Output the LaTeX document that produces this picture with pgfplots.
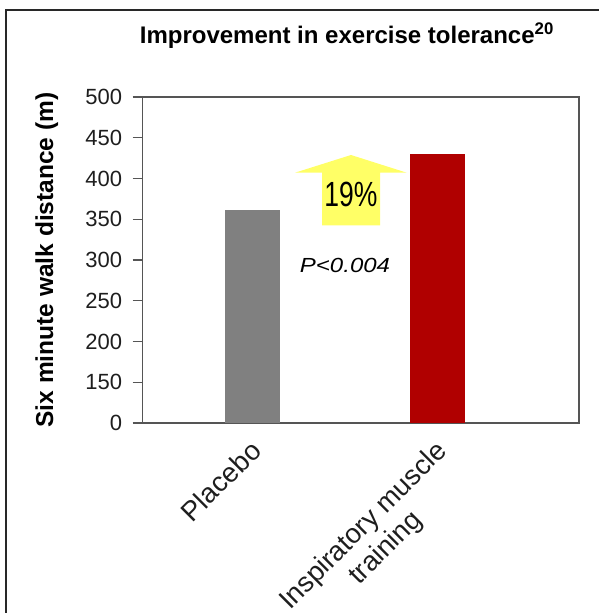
\documentclass[border=0pt]{standalone}
\usepackage{pgfplots}
\pgfplotsset{compat=1.18}
\usepackage{graphicx}
\usepackage{fontspec}
\setmainfont{Liberation Sans}
\definecolor{barred}{RGB}{176,0,0}
\definecolor{bargray}{RGB}{128,128,128}
\definecolor{axgray}{RGB}{85,85,85}
\definecolor{arrowyellow}{RGB}{255,255,102}
\begin{document}
\begin{tikzpicture}[x=1pt,y=1pt]
\useasboundingbox (0,0) rectangle (599,613);
\draw[line width=2pt, color={rgb,255:red,40;green,40;blue,40}] (5.5,0) -- (5.5,603) -- (599,603);
\begin{axis}[
  at={(142.7pt,190pt)}, anchor=south west,
  scale only axis, width=436.3pt, height=326pt,
  xmin=-0.593, xmax=1.765, ymin=100, ymax=500,
  axis line style={draw=axgray, line width=1.5pt},
  ytick={100,150,...,500},
  yticklabels={0,150,200,250,300,350,400,450,500},
  xtick={0,1},
  xticklabels={Placebo,{Inspiratory muscle\\training}},
  ytick pos=left,
  tick align=outside,
  major tick length=10pt,
  ytick style={draw=axgray, line width=1.2pt},
  xtick style={draw=none},
  yticklabel style={font=\fontsize{22}{26}\selectfont, xshift=-7pt, color={rgb,255:red,30;green,30;blue,30}},
  xticklabel style={font=\fontsize{27.5}{31}\selectfont, rotate=45, anchor=north east, align=center, xshift=-3pt, yshift=2pt, color={rgb,255:red,30;green,30;blue,30}},
  ylabel={\bfseries Six minute walk distance (m)},
  ylabel style={font=\fontsize{24.5}{28}\selectfont, at={(axis description cs:-0.22,0.5)}, anchor=center},
  title={\bfseries Improvement in exercise tolerance\textsuperscript{20}},
  title style={font=\fontsize{24}{28}\selectfont, at={(axis description cs:0.468,1.169)}, anchor=center},
  ybar, bar width=55pt,
  clip=true,
]
\addplot[fill=bargray, draw=none, bar shift=0pt] coordinates {(0,361)};
\addplot[fill=barred, draw=none, bar shift=0pt] coordinates {(1,430)};
\end{axis}
\fill[arrowyellow] (322,387.5) -- (380,387.5) -- (380,440.3) -- (406.7,440.3) -- (351,458) -- (295,440.3) -- (322,440.3) -- cycle;
\node[font=\fontsize{26.5}{30}\selectfont, inner sep=0pt] at (351,418.8) {\scalebox{1}[1.32]{19\%}};
\node[font=\fontsize{24}{28}\selectfont\itshape, inner sep=0pt] at (345,348) {\scalebox{1}[0.85]{P<0.004}};
\end{tikzpicture}
\end{document}
